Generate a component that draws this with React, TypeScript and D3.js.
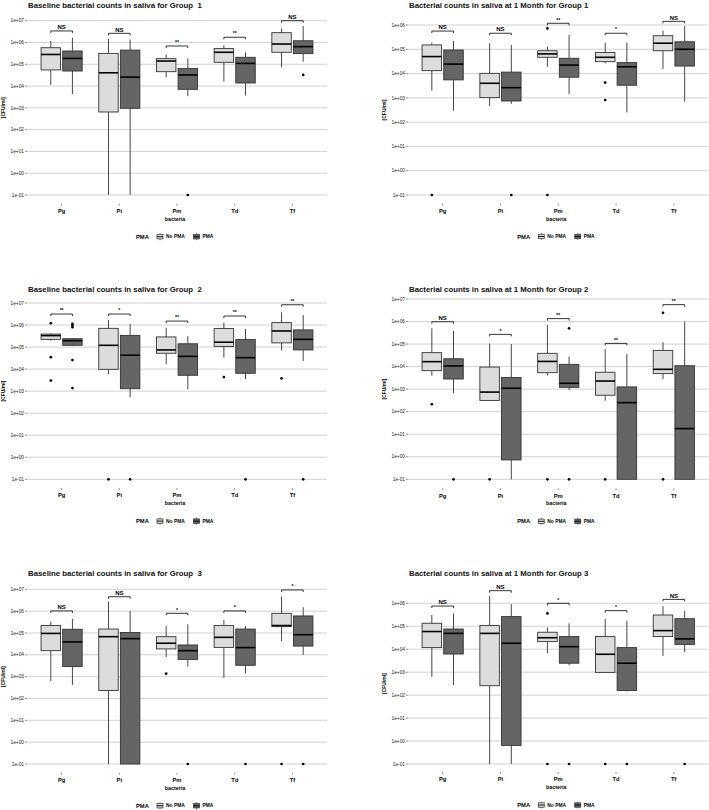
import React from "react";
import * as d3 from "d3";

// ---------- DATA (log10 CFU/ml) ----------
const bacteria = ["Pg", "Pi", "Pm", "Td", "Tf"];
const groups = ["No PMA", "PMA"];
const titles = [
  "Baseline bacterial counts in saliva for Group  1",
  "Bacterial counts in saliva at 1 Month for Group 1",
  "Baseline bacterial counts in saliva for Group  2",
  "Bacterial counts in saliva at 1 Month for Group 2",
  "Baseline bacterial counts in saliva for Group  3",
  "Bacterial counts in saliva at 1 Month for Group 3",
];
const maxExponents = [7, 6, 7, 7, 7, 6];

// each box: [lower whisker, q1, median, q3, upper whisker] as log10 values
const g1BaseNo = [[4.05, 4.74, 5.45, 5.76, 6.07], [-1, 2.81, 4.61, 5.5, 6.16], [4.4, 4.66, 5.15, 5.26, 5.45], [4.2, 5.09, 5.55, 5.72, 5.87], [4.86, 5.55, 5.93, 6.45, 6.65]];
const g1BaseNoOut = [[], [], [], [], []];
const g1BasePma = [[3.63, 4.69, 5.27, 5.61, 6.22], [-1, 2.98, 4.41, 5.65, 6.14], [3.54, 3.85, 4.51, 4.81, 5.27], [3.56, 4.14, 5.04, 5.32, 5.55], [5.12, 5.49, 5.81, 6.08, 6.76]];
const g1BasePmaOut = [[], [], [-1], [], [4.51]];
const g1BaseSig = ["NS", "NS", "**", "**", "NS"];
const g1BaseSigLevel = [6.53, 6.42, 5.84, 6.24, 7.0];

const g1MonthNo = [[3.3, 4.12, 4.7, 5.18, 5.27], [2.66, 3.01, 3.6, 4.01, 5.25], [4.28, 4.67, 4.81, 4.94, 5.11], [4.42, 4.49, 4.67, 4.87, 5.27], [4.19, 4.94, 5.25, 5.56, 5.77]];
const g1MonthNoOut = [[-1], [], [5.86, -1], [3.63, 2.91], []];
const g1MonthPma = [[2.47, 3.74, 4.39, 4.97, 5.34], [2.75, 2.87, 3.42, 4.06, 5.18], [3.15, 3.85, 4.35, 4.63, 5.59], [2.4, 3.52, 4.28, 4.45, 5.27], [2.84, 4.31, 5.0, 5.31, 5.96]];
const g1MonthPmaOut = [[], [-1], [], [], []];
const g1MonthSig = ["NS", "NS", "**", "*", "NS"];
const g1MonthSigLevel = [5.75, 5.66, 6.07, 5.66, 6.15];

const g2BaseNo = [[5.28, 5.35, 5.52, 5.59, 5.62], [3.76, 3.99, 5.08, 5.85, 6.23], [4.22, 4.72, 4.87, 5.46, 5.88], [4.52, 5.03, 5.22, 5.84, 6.11], [4.84, 5.19, 5.73, 6.11, 6.58]];
const g2BaseNoOut = [[6.08, 4.54, 3.48], [-1], [], [3.64], [3.58]];
const g2BasePma = [[5.05, 5.08, 5.29, 5.38, 5.4], [2.72, 3.11, 4.63, 5.53, 6.05], [3.08, 3.72, 4.58, 5.15, 5.5], [3.55, 3.81, 4.52, 5.34, 5.82], [4.37, 4.87, 5.35, 5.78, 6.46]];
const g2BasePmaOut = [[6.05, 5.97, 5.9, 4.41, 3.14], [-1], [], [-1], [-1]];
const g2BaseSig = ["**", "*", "**", "**", "**"];
const g2BaseSigLevel = [6.5, 6.5, 6.18, 6.41, 6.92];

const g2MonthNo = [[3.6, 3.82, 4.22, 4.62, 5.7], [2.5, 2.5, 2.87, 3.98, 5.03], [3.61, 3.73, 4.23, 4.59, 5.85], [2.49, 2.73, 3.36, 3.75, 4.78], [3.45, 3.69, 3.88, 4.72, 5.08]];
const g2MonthNoOut = [[2.33], [-1], [-1], [-1], [6.39, -1]];
const g2MonthPma = [[2.82, 3.45, 4.03, 4.35, 5.58], [-1, -0.14, 3.04, 3.52, 5.0], [2.96, 3.08, 3.26, 4.1, 4.44], [-1, -1, 2.4, 3.1, 4.56], [-1, -1, 1.25, 4.04, 5.99]];
const g2MonthPmaOut = [[-1], [], [5.7, -1], [], []];
const g2MonthSig = ["NS", "*", "**", "**", "**"];
const g2MonthSigLevel = [5.99, 5.43, 6.13, 5.03, 6.75];

const g3BaseNo = [[2.8, 4.19, 4.98, 5.34, 5.52], [-1, 2.37, 4.83, 5.18, 6.44], [3.89, 4.27, 4.53, 4.83, 5.32], [2.94, 4.34, 4.8, 5.34, 5.6], [4.63, 5.29, 5.34, 5.9, 6.66]];
const g3BaseNoOut = [[], [], [3.14], [], [-1]];
const g3BasePma = [[2.62, 3.46, 4.59, 5.17, 5.64], [-1, -1, 4.74, 5.02, 6.01], [3.46, 3.79, 4.19, 4.45, 5.4], [3.15, 3.52, 4.33, 5.18, 5.32], [3.99, 4.4, 4.92, 5.78, 6.18]];
const g3BasePmaOut = [[], [], [-1], [-1], [-1]];
const g3BaseSig = ["NS", "NS", "*", "*", "*"];
const g3BaseSigLevel = [6.01, 6.66, 5.9, 6.01, 6.97];

const g3MonthNo = [[2.8, 4.07, 4.77, 5.13, 5.49], [-1, 2.41, 4.69, 5.03, 6.32], [3.82, 4.33, 4.5, 4.74, 4.95], [2.99, 2.99, 3.78, 4.55, 5.32], [3.71, 4.55, 4.81, 5.49, 5.88]];
const g3MonthNoOut = [[], [], [5.56, -1], [-1], []];
const g3MonthPma = [[2.44, 3.79, 4.69, 4.88, 5.56], [-1, -0.19, 4.26, 5.42, 5.96], [3.31, 3.39, 4.11, 4.55, 5.13], [2.16, 2.2, 3.39, 4.07, 5.24], [3.87, 4.21, 4.45, 5.33, 5.67]];
const g3MonthPmaOut = [[], [], [-1], [-1], [-1]];
const g3MonthSig = ["NS", "NS", "*", "*", "NS"];
const g3MonthSigLevel = [5.88, 6.55, 6.0, 5.68, 6.17];

const panelData = [
  { no: g1BaseNo, noOut: g1BaseNoOut, pma: g1BasePma, pmaOut: g1BasePmaOut, sig: g1BaseSig, lvl: g1BaseSigLevel },
  { no: g1MonthNo, noOut: g1MonthNoOut, pma: g1MonthPma, pmaOut: g1MonthPmaOut, sig: g1MonthSig, lvl: g1MonthSigLevel },
  { no: g2BaseNo, noOut: g2BaseNoOut, pma: g2BasePma, pmaOut: g2BasePmaOut, sig: g2BaseSig, lvl: g2BaseSigLevel },
  { no: g2MonthNo, noOut: g2MonthNoOut, pma: g2MonthPma, pmaOut: g2MonthPmaOut, sig: g2MonthSig, lvl: g2MonthSigLevel },
  { no: g3BaseNo, noOut: g3BaseNoOut, pma: g3BasePma, pmaOut: g3BasePmaOut, sig: g3BaseSig, lvl: g3BaseSigLevel },
  { no: g3MonthNo, noOut: g3MonthNoOut, pma: g3MonthPma, pmaOut: g3MonthPmaOut, sig: g3MonthSig, lvl: g3MonthSigLevel },
];

// ---------- LAYOUT ----------
const layouts = [
  { left: 27, right: 327, yTop: 20.7, yBot: 195, titleY: 7.5, labelX: 5 },
  { left: 408, right: 708.5, yTop: 25, yBot: 195, titleY: 7.5, labelX: 386 },
  { left: 27, right: 327, yTop: 303, yBot: 479.3, titleY: 291.5, labelX: 5 },
  { left: 408, right: 708.5, yTop: 299, yBot: 479.3, titleY: 291.5, labelX: 386 },
  { left: 27, right: 327, yTop: 589.3, yBot: 764, titleY: 576, labelX: 5 },
  { left: 408, right: 708.5, yTop: 603.3, yBot: 764, titleY: 576, labelX: 386 },
];

const FILL_NO = "#dcdcdc";
const FILL_PMA = "#656565";
const EDGE = "#333333";
const GRID = "#cccccc";
const FONT = "'Liberation Sans', Arial, sans-serif";

const fmtExp = (e: number) => {
  const s = Math.abs(e).toString().padStart(2, "0");
  return `1e${e < 0 ? "-" : "+"}${s}`;
};

function Panel({ idx }: { idx: number }) {
  const L = layouts[idx];
  const D = panelData[idx];
  const maxE = maxExponents[idx];
  const y = d3.scaleLog().domain([0.1, Math.pow(10, maxE)]).range([L.yBot, L.yTop]);
  const x = d3.scalePoint<string>().domain(bacteria).range([L.left, L.right]).padding(0.6);
  const step = x.step();
  const dodge = step * 0.1875;
  const half = step * 0.16875;
  const yv = (e: number) => y(Math.pow(10, e));
  const exps = d3.range(-1, maxE + 1);
  const expand = (L.yBot - L.yTop) * 0.05;
  const axisBottom = L.yBot + expand;
  const cx = (L.left + L.right) / 2;

  const renderBox = (stats: number[], outs: number[], xc: number, fill: string, key: string) => {
    const [lo, q1, med, q3, hi] = stats.map(yv);
    return (
      <g key={key}>
        <line x1={xc} x2={xc} y1={q3} y2={hi} stroke={EDGE} strokeWidth={0.9} />
        <line x1={xc} x2={xc} y1={q1} y2={lo} stroke={EDGE} strokeWidth={0.9} />
        <rect x={xc - half} y={q3} width={half * 2} height={Math.max(q1 - q3, 0.5)} fill={fill} stroke={EDGE} strokeWidth={0.9} />
        <line x1={xc - half} x2={xc + half} y1={med} y2={med} stroke="#000" strokeWidth={1.6} />
        {outs.map((o, i) => (
          <circle key={i} cx={xc} cy={yv(o)} r={1.35} fill="#000" />
        ))}
      </g>
    );
  };

  return (
    <g>
      <text x={L.left + 1} y={L.titleY} fontSize={7.8} fontWeight="bold" fontFamily={FONT} fill="#111" style={{ whiteSpace: "pre" }}>
        {titles[idx]}
      </text>
      {exps.map((e) => (
        <g key={e}>
          <line x1={L.left} x2={L.right} y1={yv(e)} y2={yv(e)} stroke={GRID} strokeWidth={0.9} />
          <line x1={L.left - 2} x2={L.left} y1={yv(e)} y2={yv(e)} stroke="#444" strokeWidth={0.6} />
          <text x={L.left - 3} y={yv(e)} dy="0.35em" textAnchor="end" fontSize={4.8} fontFamily={FONT} fill="#222">
            {fmtExp(e)}
          </text>
        </g>
      ))}
      <text
        transform={`translate(${L.labelX},${(L.yTop + L.yBot) / 2}) rotate(-90)`}
        textAnchor="middle"
        fontSize={5}
        fontWeight="bold"
        fontFamily={FONT}
        fill="#000"
      >
        [CFU/ml]
      </text>
      {bacteria.map((b, i) => {
        const xc = x(b) as number;
        const x1 = xc - dodge;
        const x2 = xc + dodge;
        const by = yv(D.lvl[i]);
        return (
          <g key={b}>
            <line x1={xc} x2={xc} y1={axisBottom} y2={axisBottom + 2} stroke="#444" strokeWidth={0.6} />
            <text x={xc} y={axisBottom + 9.2} textAnchor="middle" fontSize={5.8} fontWeight="bold" fontFamily={FONT} fill="#000">
              {b}
            </text>
            {renderBox(D.no[i], D.noOut[i], x1, FILL_NO, "n")}
            {renderBox(D.pma[i], D.pmaOut[i], x2, FILL_PMA, "p")}
            <path d={`M${x1},${by + 2}V${by}H${x2}V${by + 2}`} fill="none" stroke="#000" strokeWidth={0.8} />
            <text x={(x1 + x2) / 2} y={by - 1.8} textAnchor="middle" fontSize={D.sig[i] === "NS" ? 6 : 5} fontWeight="bold" fontFamily={FONT} fill="#000">
              {D.sig[i]}
            </text>
          </g>
        );
      })}
      <text x={cx - 2} y={axisBottom + 17} textAnchor="middle" fontSize={5.3} fontWeight="bold" fontFamily={FONT} fill="#000">
        bacteria
      </text>
      <g transform={`translate(${cx},${axisBottom + 33})`}>
        <text x={-41} y={0} dy="0.35em" fontSize={5.8} fontWeight="bold" fontFamily={FONT} fill="#000">PMA</text>
        {groups.map((g, gi) => {
          const kx = gi === 0 ? -20 : 16.5;
          const fill = gi === 0 ? FILL_NO : FILL_PMA;
          return (
            <g key={g}>
              <line x1={kx + 3} x2={kx + 3} y1={-3.5} y2={3.5} stroke={EDGE} strokeWidth={0.7} />
              <rect x={kx} y={-2.2} width={6} height={4.4} fill={fill} stroke={EDGE} strokeWidth={0.7} />
              <line x1={kx} x2={kx + 6} y1={0} y2={0} stroke="#000" strokeWidth={0.9} />
              <text x={kx + 9} y={0} dy="0.35em" fontSize={4.9} fontWeight="bold" fontFamily={FONT} fill="#000">
                {g}
              </text>
            </g>
          );
        })}
      </g>
    </g>
  );
}

export default function App() {
  return (
    <svg width={709} height={810} style={{ position: "absolute", left: 0, top: 0, background: "#fff" }}>
      <rect width={709} height={810} fill="#fff" />
      {layouts.map((_, i) => (
        <Panel key={i} idx={i} />
      ))}
    </svg>
  );
}
